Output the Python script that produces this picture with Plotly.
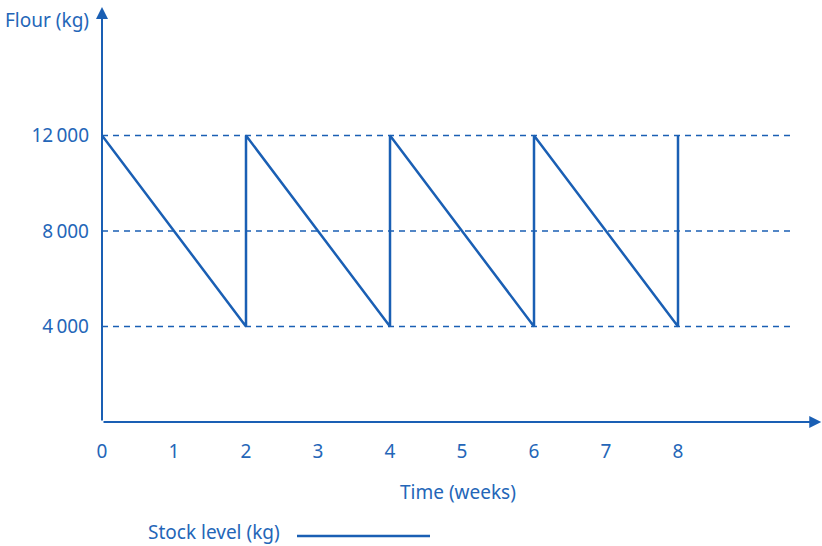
import plotly.graph_objects as go

# Data
weeks = [0, 2, 2, 4, 4, 6, 6, 8, 8]
stock_kg = [12000, 4000, 12000, 4000, 12000, 4000, 12000, 4000, 12000]
ref_levels = [4000, 8000, 12000]
x_ticks = [0, 1, 2, 3, 4, 5, 6, 7, 8]
y_tick_labels = ["4\u2009000", "8\u2009000", "12\u2009000"]
series_name = "Stock level (kg)"

BLUE = "#1a5fb4"
TXT = "#2466b8"
FONT = "Noto Sans"
FS = 19

W, H = 822, 546

def px(xp):
    return xp / W

def py(yp):
    return 1 - yp / H

fig = go.Figure()

for lvl in ref_levels:
    fig.add_trace(go.Scatter(
        x=[0, 9.56], y=[lvl, lvl], mode="lines",
        line=dict(color=BLUE, width=1.6, dash="6px,5px"),
        showlegend=False, hoverinfo="skip"))

fig.add_trace(go.Scatter(
    x=weeks, y=stock_kg, mode="lines", name=series_name,
    line=dict(color=BLUE, width=2.5), showlegend=False))

# axes with arrows
fig.add_annotation(x=9.99, y=0, ax=0, ay=0, xref="x", yref="y", axref="x", ayref="y",
                   showarrow=True, arrowhead=2, arrowsize=1.2, arrowwidth=2,
                   arrowcolor=BLUE, text="")
fig.add_annotation(x=0, y=17380, ax=0, ay=0, xref="x", yref="y", axref="x", ayref="y",
                   showarrow=True, arrowhead=2, arrowsize=1.2, arrowwidth=2,
                   arrowcolor=BLUE, text="")

# titles
fig.add_annotation(x=px(3), y=py(20), xref="paper", yref="paper",
                   text="Flour (kg)", showarrow=False, xanchor="left", yanchor="middle",
                   font=dict(family=FONT, size=FS, color=TXT))
fig.add_annotation(x=px(458), y=py(492), xref="paper", yref="paper",
                   text="Time (weeks)", showarrow=False, xanchor="center", yanchor="middle",
                   font=dict(family=FONT, size=FS, color=TXT))
# legend
fig.add_annotation(x=px(146), y=py(532), xref="paper", yref="paper",
                   text=series_name, showarrow=False, xanchor="left", yanchor="middle",
                   font=dict(family=FONT, size=FS, color=TXT))
fig.add_shape(type="line", xref="paper", yref="paper",
              x0=px(297), x1=px(430), y0=py(536), y1=py(536),
              line=dict(color=BLUE, width=2.5))

fig.update_layout(
    width=W, height=H,
    margin=dict(l=0, r=0, t=0, b=0, autoexpand=False),
    paper_bgcolor="white", plot_bgcolor="white",
    xaxis=dict(domain=[px(102), 1], range=[0, 10], tickvals=x_ticks,
               ticktext=[str(v) for v in x_ticks],
               showgrid=False, zeroline=False, showline=False, ticks="",
               ticklabelstandoff=16, automargin=False,
               tickfont=dict(family=FONT, size=FS, color=TXT)),
    yaxis=dict(domain=[py(422), 1], range=[0, 17675], tickvals=ref_levels,
               ticktext=y_tick_labels,
               showgrid=False, zeroline=False, showline=False, ticks="",
               ticklabelstandoff=12, automargin=False,
               tickfont=dict(family=FONT, size=FS, color=TXT)),
)

fig.write_html(
    "out.html",
    config={"displayModeBar": False},
    post_script="document.body.style.margin='0';document.body.style.padding='0';"
                "document.body.style.overflow='hidden';",
)
